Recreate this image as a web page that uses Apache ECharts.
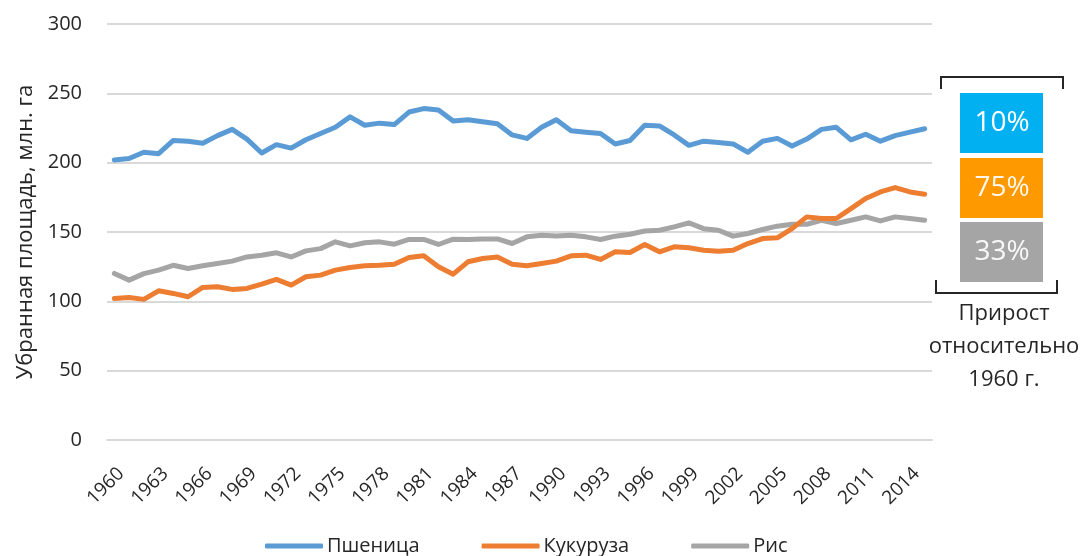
<!DOCTYPE html>
<html>
<head>
<meta charset="utf-8">
<script src="https://cdn.jsdelivr.net/npm/echarts@6/dist/echarts.min.js"></script>
<style>
  html, body { margin: 0; padding: 0; background: #fff; }
  #chart { width: 1085px; height: 556px; }
</style>
</head>
<body>
<div id="chart"></div>
<script>
// Harvested area of the three main cereals, million hectares
const years = [
  '1960','1961','1962','1963','1964','1965','1966','1967','1968','1969',
  '1970','1971','1972','1973','1974','1975','1976','1977','1978','1979',
  '1980','1981','1982','1983','1984','1985','1986','1987','1988','1989',
  '1990','1991','1992','1993','1994','1995','1996','1997','1998','1999',
  '2000','2001','2002','2003','2004','2005','2006','2007','2008','2009',
  '2010','2011','2012','2013','2014','2015'
];

const wheat = [
  202, 203, 207.5, 206.5, 216, 215.5, 214, 219.5, 224, 217,
  207, 213, 210.5, 216.5, 221, 225.5, 233, 227, 228.5, 227.5,
  236.5, 239, 238, 230, 231, 229.5, 228, 220, 217.5, 225.5,
  231, 223, 222, 221, 213.5, 216, 227, 226.5, 220, 212.5,
  215.5, 214.5, 213.5, 207.5, 215.5, 217.5, 212, 217, 224, 225.5,
  216.5, 220.5, 215.5, 219.5, 222, 224.5
];

const maize = [
  102, 102.8, 101.4, 107.6, 105.7, 103.3, 110, 110.5, 108.6, 109.3,
  112.4, 115.8, 111.7, 117.7, 118.9, 122.5, 124.4, 125.6, 126, 126.8,
  131.6, 132.8, 124.9, 119.6, 128.5, 130.9, 132, 126.8, 125.6, 127.3,
  129, 132.8, 133.3, 130.2, 135.7, 135.2, 141, 135.7, 139.3, 138.6,
  136.9, 136.2, 136.9, 141.7, 145.3, 145.8, 152.4, 160.9, 159.7, 159.7,
  166.9, 174.2, 178.9, 182, 178.9, 177.2
];

const rice = [
  120.1, 115.3, 120, 122.5, 126, 123.7, 125.6, 127.3, 129, 132,
  133.3, 135, 132, 136.4, 138, 142.9, 140, 142.2, 142.9, 141.2,
  144.6, 144.6, 141, 144.8, 144.6, 145, 145, 141.7, 146.5, 147.7,
  147.2, 147.7, 146.5, 144.6, 147, 148.4, 150.7, 151.3, 153.7, 156.6,
  152.4, 151.3, 147, 148.9, 151.8, 154.2, 155.6, 155.6, 158.5, 156.1,
  158.5, 160.9, 158, 160.9, 159.7, 158.5
];

const seriesNames = ['Пшеница', 'Кукуруза', 'Рис'];
const lineColors = ['#5B9BD5', '#ED7D31', '#A5A5A5'];

// Growth since 1960, shown in the side panel
const growthLabels = ['10%', '75%', '33%'];
const growthColors = ['#00B0F0', '#FF9900', '#A5A5A5'];
const panelCaption = ['Прирост', 'относительно', '1960 г.'];
const yAxisTitle = 'Убранная площадь, млн. га';

const FONT = '"Open Sans", "Noto Sans", sans-serif';
const TEXT = '#262626';

const chart = echarts.init(document.getElementById('chart'), null, { renderer: 'canvas' });

// Side panel: brackets, coloured boxes and caption
const graphics = [];
graphics.push({
  type: 'polyline',
  shape: { points: [[941, 89], [941, 77], [1063, 77], [1063, 89]] },
  style: { stroke: TEXT, lineWidth: 2, fill: null }
});
graphics.push({
  type: 'polyline',
  shape: { points: [[936, 280], [936, 293], [1057, 293], [1057, 280]] },
  style: { stroke: TEXT, lineWidth: 2, fill: null }
});
const boxTops = [93, 158, 222];
growthLabels.forEach((label, i) => {
  graphics.push({
    type: 'rect',
    shape: { x: 960, y: boxTops[i], width: 83, height: 60 },
    style: { fill: growthColors[i] }
  });
  graphics.push({
    type: 'text',
    x: 1002, y: boxTops[i] + 30,
    style: {
      text: label, fill: '#ffffff', font: '28px ' + FONT,
      align: 'center', verticalAlign: 'middle', opacity: i === 0 ? 1 : 0.92
    }
  });
});
const captionY = [314, 347, 380];
panelCaption.forEach((t, i) => {
  graphics.push({
    type: 'text',
    x: 1004, y: captionY[i],
    style: { text: t, fill: TEXT, font: '22px ' + FONT, align: 'center', verticalAlign: 'middle' }
  });
});

const option = {
  backgroundColor: '#ffffff',
  animation: false,
  grid: { left: 107, right: 153, top: 24, bottom: 116, containLabel: false },
  legend: {
    data: seriesNames,
    left: 260,
    top: 531,
    itemWidth: 58,
    itemHeight: 5,
    itemGap: 62,
    icon: 'roundRect',
    textStyle: { fontFamily: FONT, fontSize: 20, color: TEXT, padding: [0, 0, 0, -1] }
  },
  xAxis: {
    type: 'category',
    data: years,
    boundaryGap: true,
    axisTick: { show: false },
    axisLine: { show: true, lineStyle: { color: '#D9D9D9', width: 2 } },
    axisLabel: {
      interval: 2,
      rotate: 45,
      margin: 24,
      align: 'right',
      verticalAlign: 'top',
      fontFamily: FONT,
      fontSize: 19,
      color: TEXT
    }
  },
  yAxis: {
    type: 'value',
    min: 0,
    max: 300,
    interval: 50,
    name: yAxisTitle,
    nameLocation: 'middle',
    nameGap: 70,
    nameTextStyle: { fontFamily: FONT, fontSize: 22, color: TEXT },
    axisLine: { show: false },
    axisTick: { show: false },
    axisLabel: { margin: 25, fontFamily: FONT, fontSize: 20, color: TEXT },
    splitLine: { lineStyle: { color: '#D9D9D9', width: 2 } }
  },
  series: [wheat, maize, rice].map((values, i) => ({
    name: seriesNames[i],
    type: 'line',
    data: values,
    symbol: 'none',
    smooth: false,
    color: lineColors[i],
    lineStyle: { width: 5, color: lineColors[i], join: 'round', cap: 'round' },
    z: 3 - i
  })),
  graphic: graphics
};

chart.setOption(option);
</script>
</body>
</html>
